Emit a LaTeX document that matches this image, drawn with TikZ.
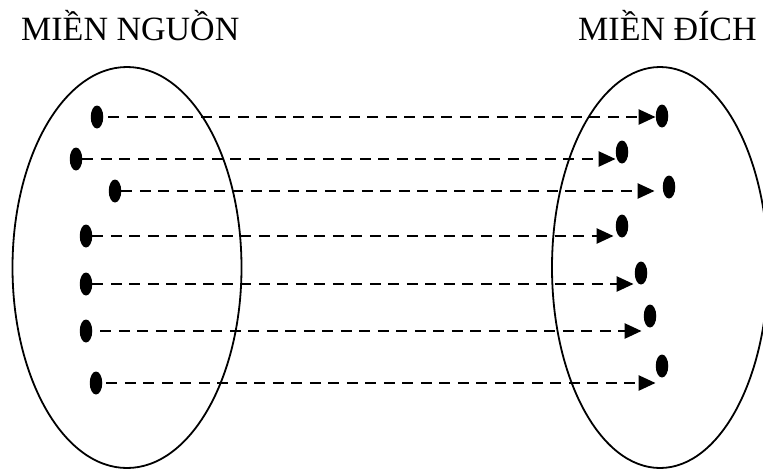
\documentclass[tikz,border=0pt]{standalone}
\usepackage{fontspec}
\setmainfont{Liberation Serif}
\usetikzlibrary{shapes.geometric,arrows.meta}
\tikzset{
  dotnode/.style={ellipse,fill=black,draw=none,inner sep=0pt,minimum width=12.5pt,minimum height=23pt},
  setbox/.style={ellipse,draw=black,line width=1.8pt,inner sep=0pt},
  maparrow/.style={line width=2.6pt,dash pattern=on 11pt off 7.5pt,-{Triangle[length=17pt,width=15pt]}},
  title/.style={anchor=base west,inner sep=0pt,font=\fontsize{34}{40}\selectfont}
}
\begin{document}
\begin{tikzpicture}[x=1pt,y=-1pt]
\useasboundingbox (0,0) rectangle (763,469);
\node[title] (tl) at (21,40) {MIỀN NGUỒN};
\node[title] (tr) at (578,40) {MIỀN ĐÍCH};
\node[setbox,minimum width=229pt,minimum height=401pt] (src) at (127,267.5) {};
\node[setbox,minimum width=216pt,minimum height=401pt] (dst) at (660,267.5) {};
% source dots
\node[dotnode] (l1) at (97,117) {};
\node[dotnode] (l2) at (76,159) {};
\node[dotnode] (l3) at (115,191) {};
\node[dotnode] (l4) at (86,236) {};
\node[dotnode] (l5) at (86,284) {};
\node[dotnode] (l6) at (86,331) {};
\node[dotnode] (l7) at (96,383) {};
% target dots
\node[dotnode] (r1) at (662,116) {};
\node[dotnode] (r2) at (622,152) {};
\node[dotnode] (r3) at (669,187) {};
\node[dotnode] (r4) at (622,226) {};
\node[dotnode] (r5) at (641,273) {};
\node[dotnode] (r6) at (650,316) {};
\node[dotnode] (r7) at (662,366) {};
% connectors
\draw[maparrow,shorten <=5pt] (l1.east) -- (r1.west |- l1.east);
\draw[maparrow] (l2.east) -- (r2.west |- l2.east);
\draw[maparrow] (l3.east) -- ([xshift=-8pt]r3.west |- l3.east);
\draw[maparrow] (l4.east) -- ([xshift=-2pt]r4.west |- l4.east);
\draw[maparrow] (l5.east) -- ([xshift=-1pt]r5.west |- l5.east);
\draw[maparrow,shorten <=8pt] (l6.east) -- ([xshift=-2pt]r6.west |- l6.east);
\draw[maparrow,shorten <=4pt] (l7.east) -- (r7.west |- l7.east);
\end{tikzpicture}
\end{document}
